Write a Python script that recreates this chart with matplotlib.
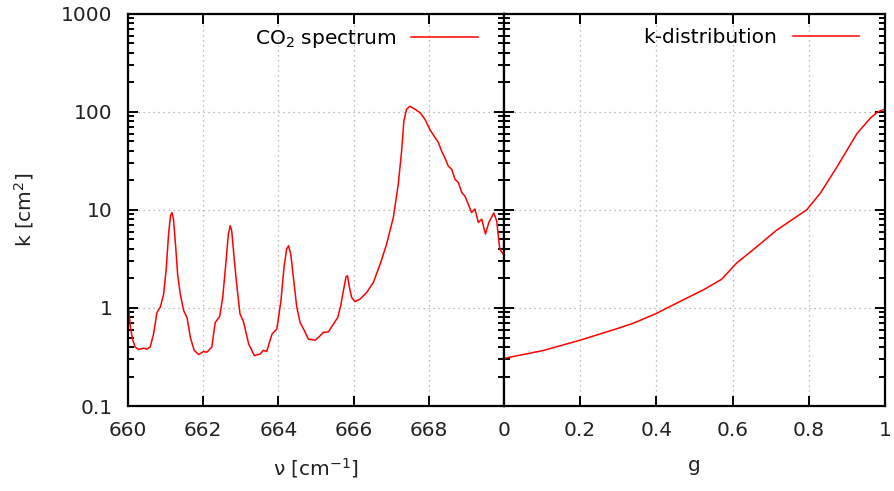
import matplotlib
matplotlib.use("Agg")
import matplotlib.pyplot as plt
import numpy as np
from matplotlib.ticker import LogLocator, FixedLocator, FuncFormatter, NullFormatter

# --- CO2 spectrum ---
nu = [660.02, 660.06, 660.12, 660.19, 660.28, 660.42, 660.50, 660.59, 660.68, 660.77,
      660.86, 660.95, 661.02, 661.08, 661.13, 661.17, 661.21, 661.27, 661.32, 661.39,
      661.48, 661.57, 661.66, 661.76, 661.88, 662.01, 662.10, 662.23, 662.32, 662.44,
      662.52, 662.61, 662.67, 662.72, 662.76, 662.83, 662.90, 662.98, 663.07, 663.21,
      663.36, 663.52, 663.60, 663.69, 663.83, 663.96, 664.07, 664.15, 664.22, 664.27,
      664.33, 664.40, 664.49, 664.58, 664.69, 664.80, 664.98, 665.11, 665.20, 665.33,
      665.47, 665.58, 665.66, 665.73, 665.80, 665.84, 665.89, 665.95, 666.04, 666.17,
      666.35, 666.53, 666.71, 666.88, 667.06, 667.19, 667.28, 667.34, 667.41, 667.50,
      667.64, 667.77, 667.90, 668.03, 668.17, 668.26, 668.34, 668.43, 668.52, 668.61,
      668.70, 668.79, 668.88, 668.96, 669.05, 669.14, 669.23, 669.32, 669.41, 669.51,
      669.60, 669.73, 669.81, 669.89, 669.98]
k_nu = [0.98, 0.66, 0.48, 0.40, 0.377, 0.39, 0.38, 0.40, 0.54, 0.90,
        1.02, 1.39, 2.59, 5.67, 8.7, 9.4, 8.05, 4.15, 2.22, 1.39,
        0.94, 0.80, 0.50, 0.37, 0.335, 0.36, 0.354, 0.40, 0.71, 0.82,
        1.28, 3.03, 5.67, 6.9, 6.1, 3.03, 1.62, 0.87, 0.73, 0.43,
        0.327, 0.34, 0.37, 0.36, 0.54, 0.61, 1.19, 2.59, 3.98, 4.31,
        3.55, 2.05, 1.02, 0.71, 0.59, 0.48, 0.47, 0.52, 0.565, 0.57,
        0.69, 0.80, 1.06, 1.50, 2.08, 2.13, 1.62, 1.28, 1.16, 1.23,
        1.44, 1.83, 2.81, 4.48, 8.4, 18.3, 40, 80.7, 106, 114,
        106, 98, 84, 66, 54.6, 48.5, 40, 34, 28, 26,
        20.5, 19, 15, 13.9, 11.5, 9.4, 10.2, 7.45, 8.05, 5.67,
        7.45, 9.3, 7.7, 3.98, 3.55]

# --- k-distribution ---
g = [0.0, 0.105, 0.20, 0.288, 0.34, 0.40, 0.453, 0.523, 0.571, 0.61,
     0.663, 0.715, 0.794, 0.83, 0.874, 0.926, 0.961, 0.979, 1.0]
k_g = [0.306, 0.37, 0.47, 0.60, 0.70, 0.88, 1.12, 1.53, 1.96, 2.86,
       4.2, 6.2, 10.0, 14.8, 27.6, 60, 86, 99, 107]

nu_ticks = [660, 662, 664, 666, 668]
g_ticks = [0, 0.2, 0.4, 0.6, 0.8, 1]
y_ticks = [0.1, 1, 10, 100, 1000]

fs = 14.5
fig = plt.figure(figsize=(8.95, 4.91), dpi=100)
ax1 = fig.add_axes([0.143, 0.173, 0.420, 0.799])
ax2 = fig.add_axes([0.563, 0.173, 0.426, 0.799], sharey=ax1)

line_kw = dict(color="red", lw=1.1)
ax1.plot(nu, k_nu, label="CO$_2$ spectrum", **line_kw)
ax2.plot(g, k_g, label="k-distribution", **line_kw)

for ax in (ax1, ax2):
    ax.set_yscale("log")
    ax.set_ylim(0.1, 1000)
    ax.yaxis.set_major_locator(FixedLocator(y_ticks))
    ax.yaxis.set_minor_locator(LogLocator(base=10, subs=np.arange(2, 10)))
    ax.yaxis.set_minor_formatter(NullFormatter())
    ax.tick_params(which="both", direction="in", top=True, right=True,
                   labelsize=fs, width=1.4, colors="black", labelcolor="#222222")
    ax.tick_params(which="major", length=7)
    ax.tick_params(which="minor", length=4)
    ax.tick_params(axis="x", pad=11)
    ax.tick_params(axis="y", pad=11)
    ax.grid(True, which="major", color="#a8a8a8", linestyle=(0, (1, 3)), lw=0.9)
    for s in ax.spines.values():
        s.set_linewidth(1.6)
    # gnuplot style key: text first, sample line on the right
    ax.legend(loc="upper right", bbox_to_anchor=(1, 1.031), markerfirst=False,
              frameon=False, fontsize=fs, handlelength=3.3, handletextpad=0.75,
              borderaxespad=0.9)

ax1.set_xlim(660, 670)
ax1.xaxis.set_major_locator(FixedLocator(nu_ticks))
ax1.yaxis.set_major_formatter(FuncFormatter(lambda v, p: f"{v:g}"))
ax1.set_ylabel("k [cm$^2$]", fontsize=fs, labelpad=18, color="#222222")
ax1.set_xlabel("ν [cm$^{-1}$]", fontsize=fs, labelpad=11, color="#222222")

ax2.set_xlim(0, 1)
ax2.xaxis.set_major_locator(FixedLocator(g_ticks))
ax2.xaxis.set_major_formatter(FuncFormatter(lambda v, p: f"{v:g}"))
ax2.tick_params(labelleft=False)
ax2.set_xlabel("g", fontsize=fs, labelpad=11, color="#222222")

fig.savefig("out.png", dpi=100)
